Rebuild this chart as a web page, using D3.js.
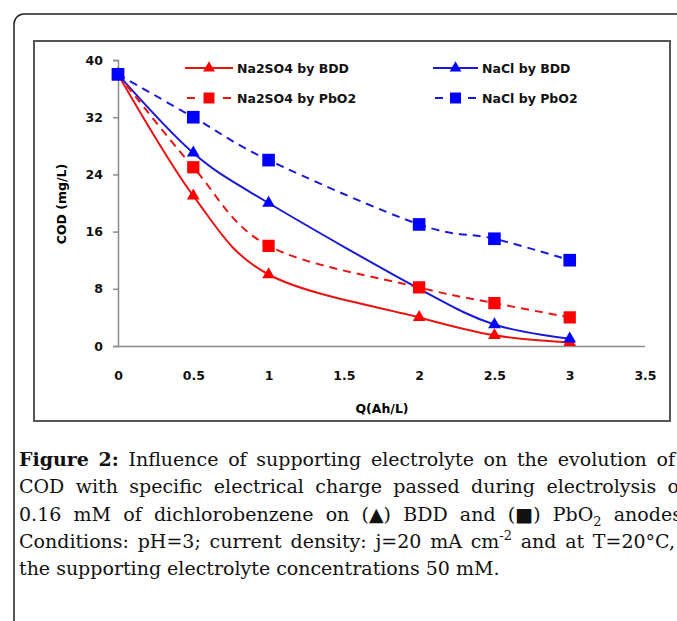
<!DOCTYPE html>
<html>
<head>
<meta charset="utf-8">
<script src="https://cdn.jsdelivr.net/npm/d3@7"></script>
<style>
  body { margin: 0; background: #fff; }
</style>
</head>
<body>
<svg id="fig" width="677" height="621"></svg>
<script>
// data
var qValues = [0, 0.5, 1, 2, 2.5, 3];
var na2so4Bdd = [38, 21, 10, 4, 1.5, 0.5];
var naclBdd = [38, 27, 20, 8, 3, 1];
var na2so4PbO2 = [38, 25, 14, 8.2, 6, 4];
var naclPbO2 = [38, 32, 26, 17, 15, 12];
var seriesNames = ["Na2SO4 by BDD", "NaCl by BDD", "Na2SO4 by PbO2", "NaCl by PbO2"];
var xTicks = [0, 0.5, 1, 1.5, 2, 2.5, 3, 3.5];
var yTicks = [0, 8, 16, 24, 32, 40];
var xTitle = "Q(Ah/L)";
var yTitle = "COD (mg/L)";

// caption, "*" = bold word, _{..} subscript, ^{..} superscript
var captionLines = [
  "*Figure *2: Influence of supporting electrolyte on the evolution of",
  "COD with specific electrical charge passed during electrolysis of",
  "0.16 mM of dichlorobenzene on (\u25B2) BDD and (\u25A0) PbO_{2} anodes.",
  "Conditions: pH=3; current density: j=20 mA cm^{-2} and at T=20\u00B0C,",
  "the supporting electrolyte concentrations 50 mM."
];

var svg = d3.select("#fig");

// outer rounded frame (runs off the page at right/bottom)
svg.append("rect")
  .attr("x", 14).attr("y", 14)
  .attr("width", 720).attr("height", 680)
  .attr("rx", 10)
  .style("fill", "none")
  .style("stroke", "#222")
  .style("stroke-width", 1.5);

// chart frame
svg.append("rect")
  .attr("x", 34).attr("y", 41)
  .attr("width", 636).attr("height", 380)
  .style("fill", "#fff")
  .style("stroke", "#555")
  .style("stroke-width", 2);

var x = d3.scaleLinear().domain([0, 3.5]).range([118, 645]);
var y = d3.scaleLinear().domain([0, 40]).range([346, 60]);

var chartFont = "'DejaVu Sans', sans-serif";

var yAxis = svg.append("g")
  .attr("transform", "translate(" + x(0) + ",0)")
  .call(d3.axisLeft(y).tickValues(yTicks).tickSize(5).tickPadding(10).tickFormat(d3.format("d")));

var xAxis = svg.append("g")
  .attr("transform", "translate(0," + y(0) + ")")
  .call(d3.axisBottom(x).tickValues(xTicks).tickSize(0).tickPadding(25).tickFormat(function (d) { return d; }));

[yAxis, xAxis].forEach(function (ax) {
  ax.select(".domain").style("stroke", "#8c8c8c").style("stroke-width", 1.5);
  ax.selectAll(".tick line").style("stroke", "#8c8c8c").style("stroke-width", 1.5);
  ax.selectAll("text")
    .style("font-family", chartFont)
    .style("font-weight", "bold")
    .style("font-size", "12.5px")
    .style("fill", "#111");
});
// domain path includes end ticks of size 0/5, redraw cleanly
xAxis.select(".domain").attr("d", "M" + x(0) + ",0.5H" + x(3.5));

svg.append("text")
  .attr("x", 382).attr("y", 413)
  .attr("text-anchor", "middle")
  .style("font-family", chartFont)
  .style("font-weight", "bold")
  .style("font-size", "12.5px")
  .text(xTitle);

svg.append("text")
  .attr("transform", "translate(66,204) rotate(-90)")
  .attr("text-anchor", "middle")
  .style("font-family", chartFont)
  .style("font-weight", "bold")
  .style("font-size", "12.5px")
  .text(yTitle);

// series
var series = [
  { name: seriesNames[0], values: na2so4Bdd, color: "#f00", line: "#e81414", dash: null, shape: d3.symbolTriangle, size: 70 },
  { name: seriesNames[1], values: naclBdd, color: "#00f", line: "#1a1ad6", dash: null, shape: d3.symbolTriangle, size: 70 },
  { name: seriesNames[2], values: na2so4PbO2, color: "#f00", line: "#e81414", dash: "8,6", shape: d3.symbolSquare, size: 150 },
  { name: seriesNames[3], values: naclPbO2, color: "#00f", line: "#1a1ad6", dash: "8,6", shape: d3.symbolSquare, size: 160 }
];

var line = d3.line()
  .x(function (d) { return x(d[0]); })
  .y(function (d) { return y(d[1]); })
  .curve(d3.curveCardinal.tension(0));

series.forEach(function (s) {
  var pts = qValues.map(function (q, i) { return [q, s.values[i]]; });
  svg.append("path")
    .attr("d", line(pts))
    .style("fill", "none")
    .style("stroke", s.line)
    .style("stroke-width", 2)
    .style("stroke-dasharray", s.dash);
  svg.append("g").selectAll("path")
    .data(pts)
    .enter()
    .append("path")
    .attr("transform", function (d) { return "translate(" + x(d[0]) + "," + y(d[1]) + ")"; })
    .attr("d", d3.symbol().type(s.shape).size(s.size))
    .style("fill", s.color);
});

// legend, two columns
var legend = svg.append("g").attr("class", "legend");
series.forEach(function (s, i) {
  var col = i % 2, row = Math.floor(i / 2);
  var x0 = col === 0 ? 185 : 433;
  var w = col === 0 ? 48 : 45;
  var ly = row === 0 ? 68 : 98;
  var g = legend.append("g").attr("transform", "translate(" + x0 + "," + ly + ")");
  if (s.dash) {
    g.append("line").attr("x1", 2).attr("x2", 10).attr("y1", 0).attr("y2", 0)
      .style("stroke", s.line).style("stroke-width", 2);
    g.append("line").attr("x1", w - 10).attr("x2", w - 2).attr("y1", 0).attr("y2", 0)
      .style("stroke", s.line).style("stroke-width", 2);
  } else {
    g.append("line").attr("x1", 0).attr("x2", w).attr("y1", 0).attr("y2", 0)
      .style("stroke", s.line).style("stroke-width", 2);
  }
  g.append("path")
    .attr("transform", "translate(" + (w / 2) + ",0)")
    .attr("d", d3.symbol().type(s.shape).size(s.shape === d3.symbolSquare ? 120 : 60))
    .style("fill", s.color);
  g.append("text")
    .attr("x", w + 4).attr("y", 4.5)
    .style("font-family", chartFont)
    .style("font-weight", "bold")
    .style("font-size", "12.5px")
    .style("fill", "#111")
    .text(s.name);
});

// caption, justified word by word
var capLeft = 19;
var capRight = [675, 686, 688, 675, null];
var capBase = 466, capStep = 27.3;
var cap = svg.append("g").attr("class", "caption");

function parseWord(w) {
  var runs = [], re = /([_^])\{([^}]*)\}/g, last = 0, m;
  while ((m = re.exec(w))) {
    if (m.index > last) runs.push({ t: w.slice(last, m.index), k: "" });
    runs.push({ t: m[2], k: m[1] });
    last = re.lastIndex;
  }
  if (last < w.length) runs.push({ t: w.slice(last), k: "" });
  return runs;
}

captionLines.forEach(function (ln, li) {
  var by = capBase + li * capStep;
  var words = ln.split(" ");
  var nodes = words.map(function (w) {
    var bold = w.charAt(0) === "*";
    if (bold) w = w.slice(1);
    var t = cap.append("text")
      .attr("y", by)
      .style("font-family", "'DejaVu Serif', serif")
      .style("font-size", "19px")
      .style("font-weight", bold ? "bold" : "normal")
      .style("fill", "#111");
    var shift = 0;
    parseWord(w).forEach(function (r) {
      var target = r.k === "_" ? 5 : (r.k === "^" ? -8 : 0);
      t.append("tspan")
        .attr("dy", target - shift)
        .style("font-size", r.k ? "13px" : null)
        .text(r.t);
      shift = target;
    });
    return t;
  });
  var widths = nodes.map(function (t) { return t.node().getComputedTextLength(); });
  var total = d3.sum(widths);
  var gap = capRight[li] ? (capRight[li] - capLeft - total) / (words.length - 1) : 6;
  var cx = capLeft;
  nodes.forEach(function (t, i) {
    t.attr("x", cx);
    cx += widths[i] + gap;
  });
});
</script>
</body>
</html>
